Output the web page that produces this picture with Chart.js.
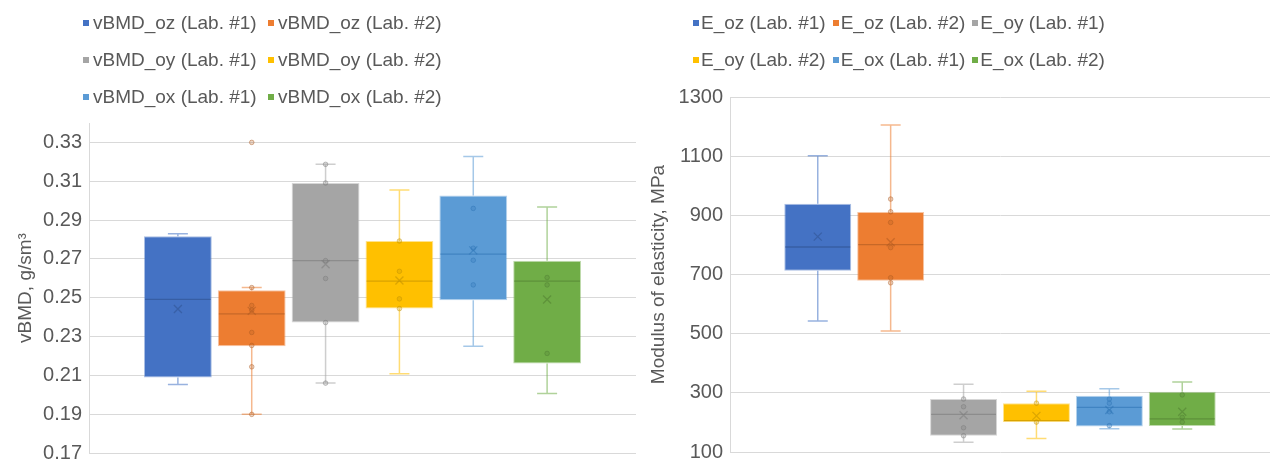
<!DOCTYPE html>
<html>
<head>
<meta charset="utf-8">
<script src="https://cdn.jsdelivr.net/npm/chart.js@4.4.1/dist/chart.umd.min.js"></script>
<style>
  body { margin: 0; background: #fff; width: 1272px; height: 463px; overflow: hidden; position: relative; font-family: 'Liberation Sans', Arial, sans-serif; }
  .pane { position: absolute; top: 0; height: 463px; overflow: hidden; }
  .legend { position: absolute; color: #595959; font-size: 19px; }
  .legend .row { height: 37px; display: flex; align-items: center; white-space: nowrap; }
  .legend .item { display: inline-flex; align-items: center; }
  .legend .mark { width: 6px; height: 6px; display: inline-block; }
</style>
</head>
<body>
<div class="pane" style="left:0;width:640px"><canvas id="leftChart" width="640" height="470"></canvas></div>
<div class="pane" style="left:640px;width:632px"><canvas id="rightChart" width="632" height="469"></canvas></div>
<div class="legend" id="leftLegend" style="left:83px;top:4px"></div>
<div class="legend" id="rightLegend" style="left:693px;top:4px"></div>
<script>
// vBMD (ліва діаграма)
const leftLabels = ['vBMD_oz (Lab. #1)', 'vBMD_oz (Lab. #2)', 'vBMD_oy (Lab. #1)', 'vBMD_oy (Lab. #2)', 'vBMD_ox (Lab. #1)', 'vBMD_ox (Lab. #2)'];
const leftMin    = [0.2053, 0.1899, 0.2060, 0.2108, 0.2250, 0.2007];
const leftQ1     = [0.2089, 0.2250, 0.2372, 0.2444, 0.2487, 0.2161];
const leftMedian = [0.2491, 0.2417, 0.2691, 0.2585, 0.2724, 0.2585];
const leftQ3     = [0.2816, 0.2539, 0.3091, 0.2792, 0.3026, 0.2691];
const leftMax    = [0.2830, 0.2552, 0.3187, 0.3055, 0.3228, 0.2967];
const leftMean   = [0.2442, 0.2432, 0.2672, 0.2589, 0.2744, 0.2491];
const leftPoints = [
  [],
  [0.3300, 0.2552, 0.2460, 0.2436, 0.2321, 0.2254, 0.2144, 0.1899],
  [0.3187, 0.3091, 0.2691, 0.2599, 0.2372, 0.2060],
  [0.2792, 0.2636, 0.2494, 0.2444],
  [0.2960, 0.2755, 0.2693, 0.2566],
  [0.2604, 0.2566, 0.2213]
];
const leftTicks = [0.17, 0.19, 0.21, 0.23, 0.25, 0.27, 0.29, 0.31, 0.33];

// модуль пружності (права діаграма)
const rightLabels = ['E_oz (Lab. #1)', 'E_oz (Lab. #2)', 'E_oy (Lab. #1)', 'E_oy (Lab. #2)', 'E_ox (Lab. #1)', 'E_ox (Lab. #2)'];
const rightMin    = [543, 509, 133, 146, 179, 178];
const rightQ1     = [713, 679, 155, 201, 186, 188];
const rightMedian = [793, 801, 227, 206, 251, 212];
const rightQ3     = [939, 911, 279, 265, 290, 304];
const rightMax    = [1101, 1205, 329, 305, 314, 337];
const rightMean   = [828, 809, 224, 222, 242, 236];
const rightPoints = [
  [],
  [955, 912, 876, 791, 689, 672],
  [279, 253, 182, 155],
  [265, 201],
  [279, 265, 236, 189],
  [293, 217, 201]
];
const rightTicks = [100, 300, 500, 700, 900, 1100, 1300];

const boxColors  = ['#4472C4', '#ED7D31', '#A5A5A5', '#FFC000', '#5B9BD5', '#70AD47'];
const darkColors = ['#2F528F', '#AE5A21', '#7B7B7B', '#BF9000', '#2E75B6', '#507E32'];

function rgba(hex, a) {
  const n = parseInt(hex.slice(1), 16);
  return `rgba(${n >> 16},${(n >> 8) & 255},${n & 255},${a})`;
}

// вуса, медіана, середнє та точки поверх стовпчиків
const boxExtras = {
  id: 'boxExtras',
  afterDatasetsDraw(chart) {
    const ctx = chart.ctx;
    const y = chart.scales.y;
    chart.data.datasets.forEach((ds, i) => {
      const bar = chart.getDatasetMeta(i).data[0];
      if (!bar) return;
      const x = bar.x;
      const half = bar.width / 2;
      const yQ1 = y.getPixelForValue(ds.data[0][0]);
      const yQ3 = y.getPixelForValue(ds.data[0][1]);
      const yMin = y.getPixelForValue(ds.lo);
      const yMax = y.getPixelForValue(ds.hi);
      ctx.save();
      // вуса
      ctx.strokeStyle = rgba(ds.base, 0.55);
      ctx.lineWidth = 1.5;
      ctx.beginPath();
      ctx.moveTo(x, yQ3); ctx.lineTo(x, yMax);
      ctx.moveTo(x - 10, yMax); ctx.lineTo(x + 10, yMax);
      ctx.moveTo(x, yQ1); ctx.lineTo(x, yMin);
      ctx.moveTo(x - 10, yMin); ctx.lineTo(x + 10, yMin);
      ctx.stroke();
      // медіана
      const yMed = y.getPixelForValue(ds.med);
      ctx.strokeStyle = rgba(ds.dark, 0.6);
      ctx.lineWidth = 1.3;
      ctx.beginPath();
      ctx.moveTo(x - half + 1, yMed); ctx.lineTo(x + half - 1, yMed);
      ctx.stroke();
      // точки
      ctx.lineWidth = 1;
      ds.pts.forEach(v => {
        const py = y.getPixelForValue(v);
        ctx.beginPath();
        ctx.arc(x, py, 2.3, 0, Math.PI * 2);
        ctx.fillStyle = rgba(ds.dark, 0.25);
        ctx.strokeStyle = rgba(ds.dark, 0.45);
        ctx.fill();
        ctx.stroke();
      });
      // середнє (хрестик)
      const yAvg = y.getPixelForValue(ds.avg);
      ctx.strokeStyle = rgba(ds.dark, 0.55);
      ctx.lineWidth = 1.3;
      ctx.beginPath();
      ctx.moveTo(x - 4, yAvg - 4); ctx.lineTo(x + 4, yAvg + 4);
      ctx.moveTo(x + 4, yAvg - 4); ctx.lineTo(x - 4, yAvg + 4);
      ctx.stroke();
      ctx.restore();
    });
  }
};

function buildDatasets(labels, q1, q3, lo, med, hi, avg, pts) {
  return labels.map((label, i) => ({
    label: label,
    data: [[q1[i], q3[i]]],
    backgroundColor: boxColors[i],
    borderColor: rgba(boxColors[i], 0.45),
    borderWidth: 1,
    borderSkipped: false,
    categoryPercentage: 0.81,
    barPercentage: 0.918,
    base: boxColors[i],
    dark: darkColors[i],
    lo: lo[i], med: med[i], hi: hi[i], avg: avg[i], pts: pts[i]
  }));
}

function makeChart(id, datasets, yOpts, padding, axisWidth) {
  const ctx = document.getElementById(id).getContext('2d');
  return new Chart(ctx, {
    type: 'bar',
    data: { labels: [''], datasets: datasets },
    options: {
      responsive: false,
      animation: false,
      devicePixelRatio: 1,
      layout: { padding: padding },
      plugins: { legend: { display: false }, tooltip: { enabled: false } },
      scales: {
        x: { display: false },
        y: {
          min: yOpts.min,
          max: yOpts.max,
          afterBuildTicks: axis => { axis.ticks = yOpts.ticks.map(v => ({ value: v })); },
          afterFit: scale => { scale.width = axisWidth; },
          ticks: {
            color: '#595959',
            padding: 7,
            font: { family: 'Liberation Sans', size: 20, lineHeight: 1 },
            callback: yOpts.format
          },
          grid: { color: '#d9d9d9', lineWidth: 1, drawTicks: false },
          border: { color: '#d9d9d9' },
          title: {
            display: true,
            text: yOpts.title,
            color: '#595959',
            padding: { top: 4, bottom: 0 },
            font: { family: 'Liberation Sans', size: 19 }
          }
        }
      }
    },
    plugins: [boxExtras]
  });
}

function buildLegend(elId, labels, perRow, itemWidth, gap, textGap) {
  const el = document.getElementById(elId);
  for (let r = 0; r < labels.length; r += perRow) {
    const row = document.createElement('div');
    row.className = 'row';
    labels.slice(r, r + perRow).forEach((label, k) => {
      const i = r + k;
      const item = document.createElement('span');
      item.className = 'item';
      if (itemWidth) item.style.width = itemWidth + 'px';
      else item.style.marginRight = gap + 'px';
      const mark = document.createElement('span');
      mark.className = 'mark';
      mark.style.background = boxColors[i];
      mark.style.marginRight = textGap + 'px';
      item.appendChild(mark);
      item.appendChild(document.createTextNode(label));
      row.appendChild(item);
    });
    el.appendChild(row);
  }
}

makeChart('leftChart',
  buildDatasets(leftLabels, leftQ1, leftQ3, leftMin, leftMedian, leftMax, leftMean, leftPoints),
  { min: 0.17, max: 0.34, ticks: leftTicks, title: 'vBMD, g/sm³', format: v => v.toFixed(2) },
  { top: 123, bottom: 10, left: 10, right: 4 }, 79);

makeChart('rightChart',
  buildDatasets(rightLabels, rightQ1, rightQ3, rightMin, rightMedian, rightMax, rightMean, rightPoints),
  { min: 100, max: 1300, ticks: rightTicks, title: 'Modulus of elasticity, MPa', format: v => String(v) },
  { top: 97, bottom: 11, left: 3, right: 2 }, 87);

buildLegend('leftLegend', leftLabels, 2, 185, 0, 4);
buildLegend('rightLegend', rightLabels, 3, 0, 7, 2);
</script>
</body>
</html>
